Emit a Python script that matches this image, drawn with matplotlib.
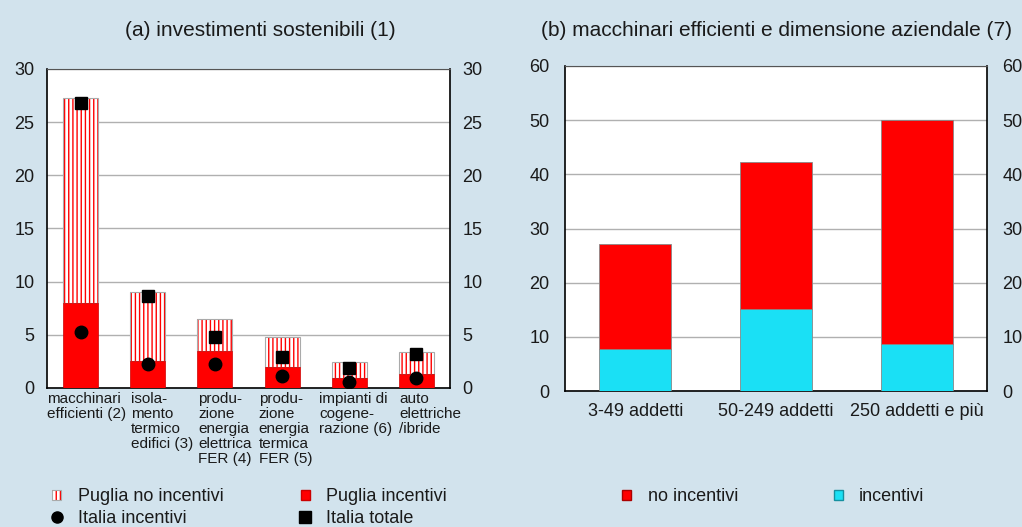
import numpy as np
import matplotlib.pyplot as plt
from matplotlib.patches import Patch
from matplotlib.lines import Line2D

plt.rcParams['font.family'] = ['Liberation Sans', 'DejaVu Sans']

# (a) investimenti sostenibili
cat_a = ['macchinari\nefficienti (2)', 'isola-\nmento\ntermico\nedifici (3)',
         'produ-\nzione\nenergia\nelettrica\nFER (4)', 'produ-\nzione\nenergia\ntermica\nFER (5)',
         'impianti di\ncogene-\nrazione (6)', 'auto\nelettriche\n/ibride']
puglia_tot = [27.3, 9.0, 6.5, 4.8, 2.4, 3.35]
puglia_inc = [7.95, 2.5, 3.5, 2.0, 0.9, 1.3]
italia_inc = [5.3, 2.3, 2.3, 1.15, 0.6, 0.9]
italia_tot = [26.8, 8.65, 4.8, 2.95, 1.85, 3.2]

# (b) macchinari efficienti e dimensione aziendale
cat_b = ['3-49 addetti', '50-249 addetti', '250 addetti e più']
b_tot = [27.1, 42.2, 50.0]
b_inc = [7.8, 15.1, 8.6]

# left edge of each category label, relative to the category position
label_shift = [-0.5, -0.25, -0.25, -0.35, -0.45, -0.26]

bg = '#d2e3ed'
red = '#ff0000'
cyan = '#1ae0f5'

fig = plt.figure(figsize=(10.22, 5.27), dpi=100, facecolor=bg)
ax1 = fig.add_axes([47/1022, 139/527, 403/1022, 319/527])
ax2 = fig.add_axes([565/1022, 136/527, 422/1022, 325/527])

x = np.arange(len(cat_a))
w = 0.52
no_inc = np.array(puglia_tot) - np.array(puglia_inc)
ax1.bar(x, no_inc, w, bottom=puglia_inc, color='white', edgecolor=red, hatch='||||', linewidth=0, zorder=2)
ax1.bar(x, no_inc, w, bottom=puglia_inc, fill=False, edgecolor='#aaaaaa', linewidth=0.8, zorder=3)
ax1.bar(x, puglia_inc, w, color=red, edgecolor='#cc0000', linewidth=0.5, zorder=3)
ax1.plot(x, italia_inc, 'o', color='black', markersize=9, zorder=4)
ax1.plot(x, italia_tot, 's', color='black', markersize=9, zorder=4)
ax1.set_xlim(-0.5, len(cat_a) - 0.5)
ax1.set_ylim(0, 30)
ax1.set_yticks(range(0, 31, 5))
ax1.set_xticks(x)
ax1.set_xticklabels([])
for i, lab in enumerate(cat_a):
    ax1.annotate(lab, xy=(i + label_shift[i], 0), xycoords=('data', 'axes fraction'),
                 xytext=(0, -3), textcoords='offset points', ha='left', va='top',
                 fontsize=11, linespacing=1.08, color='#1a1a1a')
ax1.set_title('(a) investimenti sostenibili (1)', fontsize=15, pad=24, color='#1a1a1a', x=0.53)

xb = np.arange(len(cat_b))
wb = 0.51
ax2.bar(xb, b_inc, wb, color=cyan, edgecolor='#888888', linewidth=0.6, zorder=3)
ax2.bar(xb, np.array(b_tot) - np.array(b_inc), wb, bottom=b_inc, color=red,
        edgecolor='#888888', linewidth=0.6, zorder=3)
ax2.set_xlim(-0.5, len(cat_b) - 0.5)
ax2.set_ylim(0, 60)
ax2.set_yticks(range(0, 61, 10))
ax2.set_xticks(xb)
ax2.set_xticklabels(cat_b)
ax2.set_title('(b) macchinari efficienti e dimensione aziendale (7)', fontsize=15, pad=21.5,
              color='#1a1a1a')

for ax, ypad in ((ax1, 9), (ax2, 11)):
    ax.set_facecolor('white')
    ax.yaxis.grid(True, color='#b0b0b0', linewidth=1, zorder=0)
    ax.set_axisbelow(True)
    ax.tick_params(axis='both', length=0, labelsize=13, colors='#1a1a1a')
    ax.tick_params(axis='y', labelright=True, pad=ypad)
    ax.tick_params(axis='x', pad=9)
    for s in ('left', 'bottom', 'right'):
        ax.spines[s].set_color('black')
        ax.spines[s].set_linewidth(1.2)
    ax.spines['top'].set_color('#555555')

hatch_handle = (Patch(facecolor='white', edgecolor=red, hatch='||||', linewidth=0),
                Patch(fill=False, edgecolor='#aaaaaa', linewidth=0.8))
h1 = [hatch_handle,
      Line2D([], [], marker='o', color='black', linestyle='none', markersize=8),
      Patch(facecolor=red, edgecolor='#cc0000'),
      Line2D([], [], marker='s', color='black', linestyle='none', markersize=8)]
l1 = ['Puglia no incentivi', 'Italia incentivi', 'Puglia incentivi', 'Italia totale']
fig.legend(h1, l1, ncol=2, loc='upper left', bbox_to_anchor=(36/1022, 1 - 472/527),
           frameon=False, fontsize=13, handlelength=0.5, handleheight=0.5,
           handletextpad=0.9, columnspacing=4.3, labelspacing=0.27, borderpad=0.4,
           labelcolor='#1a1a1a')

h2 = [Patch(facecolor=red, edgecolor='#aa0000'), Patch(facecolor=cyan, edgecolor='#1590a0')]
l2 = ['no incentivi', 'incentivi']
fig.legend(h2, l2, ncol=2, loc='upper left', bbox_to_anchor=(606/1022, 1 - 472/527),
           frameon=False, fontsize=13, handlelength=0.5, handleheight=0.5,
           handletextpad=0.9, columnspacing=5.3, borderpad=0.4, labelcolor='#1a1a1a')

fig.savefig('out.png', dpi=100, facecolor=bg)
